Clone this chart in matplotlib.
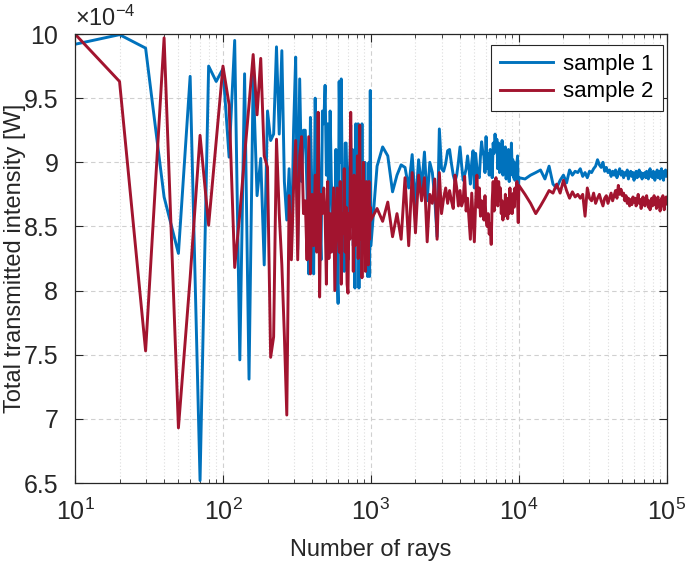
import numpy as np
import matplotlib
matplotlib.use("Agg")
import matplotlib.pyplot as plt
from matplotlib.ticker import FuncFormatter, LogLocator, MultipleLocator

# Numero de raios: passo 10 ate 1000, passo 100 ate 1e4, passo 1000 ate 1e5
raios_a = np.arange(10, 1001, 10)
raios_b = np.arange(1100, 10001, 100)
raios_c = np.arange(11000, 100001, 1000)

# Intensidade transmitida (x 1e-4 W) - amostra 1
amostra1_a = [9.92, 9.995, 9.89, 8.73, 8.29, 9.67, 6.52, 9.75, 9.63, 9.73,
              9.04, 9.95, 7.46, 9.69, 7.31, 9.67, 8.74, 9.03, 8.20, 9.40,
              9.17, 9.22, 9.90, 9.22, 9.87, 8.85, 8.55, 8.95, 8.30, 9.25,
              9.82, 8.32, 9.65, 8.85, 9.25, 9.25, 8.77, 8.13, 9.35, 8.70,
              8.13, 9.50, 8.76, 9.35, 8.60, 8.24, 9.40, 9.30, 9.60, 8.90,
              9.30, 8.50, 9.40, 8.85, 8.60, 8.30, 8.45, 9.10, 8.20, 7.90,
              9.63, 9.00, 9.65, 8.77, 8.82, 8.15, 9.15, 9.15, 8.77, 8.24,
              8.85, 9.00, 9.29, 8.60, 9.10, 8.35, 8.85, 8.02, 9.30, 8.40,
              8.70, 9.30, 8.02, 8.90, 9.25, 8.50, 9.30, 8.60, 8.90, 8.30,
              9.00, 8.50, 8.80, 8.20, 8.11, 8.70, 9.00, 8.11, 9.56, 8.35]
amostra1_b = [8.97, 9.12, 9.05, 8.77, 8.90, 8.98, 8.96, 8.80, 9.06, 8.66,
              9.02, 8.80, 9.08, 8.70, 9.00, 8.92, 8.72, 8.42, 9.26, 8.95,
              8.93, 8.99, 9.09, 9.10, 8.99, 8.90, 8.85, 8.90, 9.00, 9.12,
              8.98, 8.86, 8.90, 8.95, 9.05, 8.95, 8.83, 9.00, 9.09, 8.80,
              9.07, 8.96, 8.90, 8.88, 9.05, 9.16, 9.08, 9.05, 8.92, 9.20,
              8.95, 9.07, 8.90, 9.10, 9.02, 8.88, 9.15, 9.07, 9.22, 9.10,
              9.18, 8.95, 9.15, 8.92, 9.10, 9.00, 9.17, 8.90, 9.05, 8.98,
              9.12, 8.87, 9.05, 8.93, 9.10, 8.85, 9.00, 8.90, 9.15, 8.95,
              9.02, 8.88, 9.00, 8.86, 8.95, 8.90, 9.00, 9.05, 8.74, 8.88]
amostra1_c = [8.87, 8.90, 8.92, 8.94, 8.87, 8.97, 8.83, 8.80, 8.86, 8.90,
              8.84, 8.94, 8.90, 8.93, 8.92, 8.95, 8.89, 8.92, 8.88, 8.93,
              8.92, 8.95, 8.97, 9.02, 8.98, 8.96, 9.00, 8.93, 8.96, 8.92,
              8.94, 8.89, 8.93, 8.90, 8.94, 8.88, 8.92, 8.95, 8.90, 8.93,
              8.88, 8.92, 8.90, 8.94, 8.87, 8.91, 8.93, 8.89, 8.92, 8.86,
              8.91, 8.93, 8.88, 8.90, 8.94, 8.89, 8.92, 8.87, 8.91, 8.90,
              8.92, 8.88, 8.93, 8.90, 8.87, 8.92, 8.95, 8.89, 8.91, 8.88,
              8.93, 8.90, 8.86, 8.92, 8.89, 8.94, 8.88, 8.91, 8.93, 8.87,
              8.92, 8.95, 8.89, 8.91, 8.86, 8.93, 8.90, 8.94, 8.89, 8.92]

# Intensidade transmitida (x 1e-4 W) - amostra 2
amostra2_a = [10.0, 9.63, 7.53, 9.97, 6.93, 8.10, 9.21, 8.51, 9.16, 9.75,
              9.45, 8.18, 8.60, 9.05, 9.45, 9.84, 9.37, 9.81, 9.05, 8.96,
              7.48, 7.64, 9.18, 8.60, 8.20, 7.65, 7.03, 8.74, 8.24, 8.80,
              9.17, 8.24, 9.05, 9.20, 8.60, 8.70, 8.24, 9.20, 8.13, 8.75,
              8.35, 8.90, 8.30, 9.39, 7.95, 8.75, 8.60, 8.80, 8.60, 8.05,
              8.85, 8.25, 8.60, 8.30, 8.55, 8.80, 8.00, 8.40, 8.80, 8.55,
              8.30, 8.85, 8.05, 8.60, 8.45, 8.95, 8.30, 8.65, 8.05, 7.98,
              8.60, 8.40, 9.39, 8.50, 8.85, 8.15, 8.90, 8.35, 8.70, 8.45,
              9.05, 8.25, 8.80, 9.29, 8.40, 8.85, 8.10, 8.65, 9.00, 8.30,
              8.75, 8.15, 8.85, 8.40, 8.70, 8.20, 8.85, 8.40, 8.65, 8.55]
amostra2_b = [8.64, 8.54, 8.69, 8.42, 8.60, 8.40, 8.88, 8.35, 8.92, 8.45,
              8.90, 8.70, 8.88, 8.38, 8.75, 8.68, 8.87, 8.40, 8.92, 8.60,
              8.72, 8.80, 8.68, 8.78, 8.70, 8.64, 8.90, 8.80, 8.66, 8.78,
              8.66, 8.70, 8.89, 8.62, 8.72, 8.56, 8.40, 8.76, 8.57, 8.38,
              8.68, 8.90, 8.65, 8.80, 8.58, 8.70, 8.62, 8.55, 8.74, 8.55,
              8.50, 8.60, 8.44, 8.52, 8.36, 8.70, 8.85, 8.62, 8.78, 8.88,
              8.72, 8.66, 8.85, 8.74, 8.80, 8.60, 8.70, 8.55, 8.66, 8.58,
              8.75, 8.62, 8.72, 8.56, 8.68, 8.60, 8.80, 8.62, 8.75, 8.60,
              8.70, 8.76, 8.65, 8.80, 8.72, 8.78, 8.85, 8.70, 8.53, 8.82]
amostra2_c = [8.75, 8.68, 8.60, 8.66, 8.72, 8.78, 8.76, 8.83, 8.76, 8.86,
              8.78, 8.72, 8.77, 8.73, 8.75, 8.72, 8.75, 8.58, 8.80, 8.72,
              8.70, 8.76, 8.68, 8.72, 8.75, 8.70, 8.66, 8.72, 8.74, 8.68,
              8.72, 8.76, 8.70, 8.74, 8.78, 8.72, 8.82, 8.75, 8.79, 8.74,
              8.76, 8.70, 8.74, 8.68, 8.72, 8.66, 8.71, 8.67, 8.73, 8.69,
              8.72, 8.66, 8.70, 8.75, 8.68, 8.71, 8.64, 8.70, 8.73, 8.68,
              8.66, 8.71, 8.74, 8.69, 8.65, 8.70, 8.63, 8.68, 8.72, 8.66,
              8.70, 8.74, 8.67, 8.71, 8.64, 8.69, 8.73, 8.66, 8.70, 8.62,
              8.68, 8.72, 8.66, 8.74, 8.69, 8.63, 8.71, 8.67, 8.73, 8.70]

rotulos = ["sample 1", "sample 2"]

raios = np.concatenate([raios_a, raios_b, raios_c])
amostra1 = np.concatenate([amostra1_a, amostra1_b, amostra1_c])
amostra2 = np.concatenate([amostra2_a, amostra2_b, amostra2_c])

plt.rcParams["font.family"] = ["Liberation Sans", "DejaVu Sans"]
plt.rcParams["mathtext.default"] = "regular"

fig = plt.figure(figsize=(6.85, 5.63), dpi=100)
ax = fig.add_axes([0.1095, 0.142, 0.864, 0.7976])

# Linhas das duas amostras (cores padrao do MATLAB)
ax.plot(raios, amostra1, color="#0072BD", lw=2.1, label=rotulos[0])
ax.plot(raios, amostra2, color="#A2142F", lw=2.1, label=rotulos[1])

ax.set_xscale("log")
ax.set_xlim(10, 1e5)
ax.set_ylim(6.5, 10)
ax.yaxis.set_major_locator(MultipleLocator(0.5))
ax.yaxis.set_major_formatter(FuncFormatter(lambda v, p: "%g" % v))
ax.xaxis.set_minor_locator(LogLocator(base=10, subs=np.arange(2, 10), numticks=20))

# Grade estilo MATLAB
ax.grid(True, which="major", color="#d0d0d0", linestyle=(0, (4, 3)), lw=0.8)
ax.grid(True, which="minor", axis="x", color="#dddddd", linestyle=(0, (1, 2)), lw=0.8)
ax.set_axisbelow(True)

for s in ax.spines.values():
    s.set_color("#262626")
    s.set_linewidth(0.9)
ax.tick_params(which="both", direction="in", top=True, right=True, colors="#262626",
               labelsize=18, labelcolor="#262626")
ax.tick_params(which="major", length=6)
ax.tick_params(which="minor", length=3)
ax.tick_params(axis="x", which="major", pad=11)
ax.tick_params(axis="y", which="major", pad=12)

ax.set_xlabel("Number of rays", fontsize=17, color="#262626", labelpad=10)
ax.set_ylabel("Total transmitted intensity [W]", fontsize=17, color="#262626")
ax.yaxis.set_label_coords(-0.083, 0.5)
ax.text(0.0, 1.008, r"$\times10^{-4}$", transform=ax.transAxes, fontsize=17,
        color="#262626", ha="left", va="bottom")

leg = ax.legend(loc="upper right", bbox_to_anchor=(0.993, 0.976), fontsize=16,
                frameon=True, fancybox=False, edgecolor="#262626", framealpha=1,
                handlelength=2.4, handletextpad=0.45, borderaxespad=0.0,
                labelspacing=0.3)
leg.get_frame().set_linewidth(0.8)

plt.savefig("out.png", dpi=100)
